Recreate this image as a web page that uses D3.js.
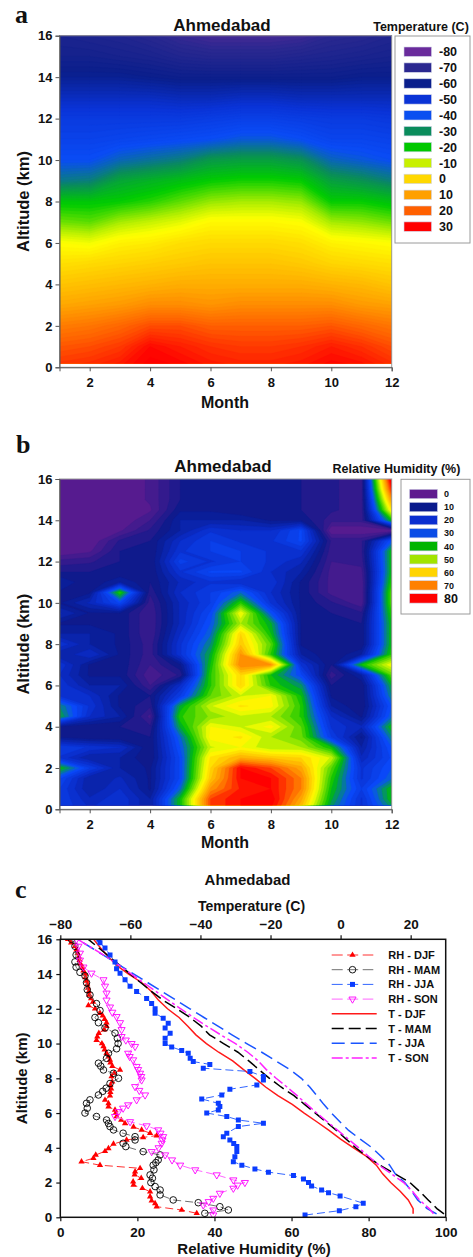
<!DOCTYPE html>
<html>
<head>
<meta charset="utf-8">
<script src="https://cdn.jsdelivr.net/npm/d3@7"></script>
<style>
  body { margin: 0; background: #fff; }
  svg text { font-family: Arial, "Liberation Sans", sans-serif; font-weight: bold; fill: #111; }
  .letter { font-family: "Times New Roman", "Liberation Serif", serif; font-size: 26px; }
</style>
</head>
<body>
<svg id="fig" width="473" height="1257"></svg>
<script>
// ---------- data ----------
var months = [1, 2, 3, 4, 5, 6, 7, 8, 9, 10, 11, 12];

// panel a: temperature (C) by month, altitude 0..16 km every 1 km
var tAlt = [0, 1, 2, 3, 4, 5, 6, 7, 8, 9, 10, 11, 12, 13, 14, 15, 16];
var tJan = [25, 21, 16, 10, 5, 0, -5, -14, -21, -33, -40, -44, -47, -53, -59, -63, -65];
var tFeb = [26, 22, 17, 11, 6, 1, -6, -15, -21, -32, -40, -44, -47, -53, -59, -63, -66];
var tMar = [28, 24, 19, 12, 7, 2, -3, -11, -20, -26, -36, -43, -47, -53, -59, -64, -67];
var tApr = [31, 29, 22, 14, 8, 3, -2, -9, -18, -24, -34, -42, -47, -53, -60, -65, -69];
var tMay = [30, 27, 22, 14, 9, 4, 0, -7, -15, -22, -32, -41, -47, -54, -61, -67, -72];
var tJun = [28, 25, 20, 13, 9, 5, 1, -4, -12, -20, -28, -40, -46, -54, -61, -68, -74];
var tJul = [27, 24, 20, 14, 9, 5, 1, -4, -11, -19, -27, -38, -45, -53, -61, -68, -74];
var tAug = [27, 24, 20, 14, 9, 5, 1, -4, -11, -19, -27, -38, -45, -53, -61, -68, -74];
var tSep = [28, 25, 20, 14, 9, 4, 0, -5, -12, -20, -29, -40, -46, -54, -61, -67, -73];
var tOct = [30, 27, 21, 14, 8, 2, -3, -11, -20, -27, -36, -43, -47, -54, -61, -66, -70];
var tNov = [29, 25, 19, 12, 7, 1, -4, -12, -20, -29, -38, -43, -47, -54, -60, -65, -69];
var tDec = [26, 22, 17, 11, 5, 0, -5, -14, -22, -32, -40, -44, -48, -54, -60, -64, -67];

var tLegendVals = [-80, -70, -60, -50, -40, -30, -20, -10, 0, 10, 20, 30];
var tLegendColors = ["#6a2b9c", "#2b2890", "#0a1f8c", "#0a33d6", "#0a4ff0", "#0a8c5c",
                     "#00c800", "#c8f000", "#ffd800", "#ffa000", "#ff6000", "#ff0000"];

// panel b: relative humidity (%) by month, altitude 0..16 km every 0.5 km
var rhAlt = [0, 0.5, 1, 1.5, 2, 2.5, 3, 3.5, 4, 4.5, 5, 5.5, 6, 6.5, 7, 7.5, 8,
             8.5, 9, 9.5, 10, 10.5, 11, 11.5, 12, 12.5, 13, 13.5, 14, 14.5, 15, 15.5, 16];
var rhJan = [25,25,25,28,40,22,25,12,12,38,35,22,22,20,22,15,22,15,12,18,12,12,15,10,6,0,0,0,0,0,0,0,0];
var rhFeb = [20,18,15,15,25,15,22,10,10,20,22,20,15,12,12,20,15,15,12,12,18,12,10,10,7,2,0,0,0,0,0,0,0];
var rhMar = [22,22,20,18,15,15,20,10,10,15,12,12,15,12,12,12,12,12,12,12,28,42,15,10,10,10,8,2,0,0,0,0,0];
var rhApr = [15,15,12,12,12,10,10,10,8,4,8,10,5,3,5,6,6,5,5,5,6,8,10,10,10,10,10,8,5,2,3,3,3];
var rhMay = [40,40,32,28,28,28,30,32,38,42,38,25,20,8,12,22,22,20,18,18,18,20,18,22,26,22,20,15,15,12,10,10,10];
var rhJun = [75,75,68,62,60,58,52,56,55,48,52,45,42,42,40,38,35,32,30,28,25,25,22,28,22,25,25,22,15,12,10,10,10];
var rhJul = [80,80,78,80,80,65,55,58,52,52,58,52,60,60,70,68,62,60,50,55,42,32,20,28,25,25,22,20,15,10,10,10,10];
var rhAug = [80,82,80,80,75,62,50,50,56,50,56,55,42,40,68,42,45,40,38,30,22,20,22,20,22,22,22,20,12,10,10,10,10];
var rhSep = [62,66,70,70,66,60,50,46,45,42,42,40,36,28,22,15,12,12,12,12,12,12,12,15,18,22,28,28,12,10,10,10,10];
var rhOct = [35,38,40,42,45,52,40,25,22,20,15,12,10,6,10,10,10,10,10,10,8,4,4,4,5,6,7,0,6,8,8,8,8];
var rhNov = [22,22,25,22,22,18,15,12,18,12,10,10,10,15,40,15,10,10,10,8,3,3,3,4,6,7,7,0,6,6,6,6,6];
var rhDec = [35,40,40,32,30,28,30,35,40,32,30,35,38,45,55,42,40,40,40,42,45,45,42,40,40,40,30,0,40,58,68,78,85];

var rhLegendVals = [0, 10, 20, 30, 40, 50, 60, 70, 80];
var rhLegendColors = ["#5f1b8f", "#0a1a8c", "#0a2ed0", "#0a4ce6", "#00b400",
                      "#a2e400", "#ffd400", "#ff8000", "#ff0000"];

// panel c: seasonal profiles, [altitude km, RH %]
var rhDJF = [[0.23,35.4],[0.42,31.5],[0.61,25],[0.8,24.6],[0.95,23.7],[1.19,23.3],[1.48,23.3],[1.67,21.3],
  [1.86,19],[2.05,18.9],[2.25,21],[2.45,19.3],[2.63,19.4],[2.82,20.7],[3.0,10.3],[3.2,5.5],[3.4,8.6],
  [3.59,9.2],[3.8,11.6],[3.97,12.5],[4.22,13.8],[4.45,17.2],[4.6,21.5],[4.7,25],[4.84,23.3],[5.03,21.1],
  [5.2,19],[5.4,16.8],[5.6,15.8],[5.8,14.6],[6.0,14.4],[6.18,14.2],[6.37,12.5],[6.56,12.5],[6.75,11.6],
  [7.0,12.9],[7.2,13],[7.4,13.2],[7.6,13],[7.8,13.5],[8.1,13.3],[8.3,14],[8.48,15.5],[8.7,13.5],[8.9,13],
  [9.06,12.9],[9.25,12.5],[9.45,12],[9.65,11.5],[9.84,11.2],[10.0,10.8],[10.2,9.4],[10.4,9.6],[10.6,10],
  [10.8,11.4],[11.0,12],[11.2,12],[11.4,11.5],[11.6,11],[11.75,10.3],[12.0,9],[12.2,7.3],[12.4,8.5],
  [12.6,8],[12.8,7.5],[13.0,7.4],[13.2,7.2],[13.4,7],[13.6,6.8],[13.8,6.5],[14.0,6.5],[14.2,6.0],
  [14.4,5.8],[14.6,5.2],[14.8,5.0],[15.0,4.8],[15.2,4.5],[15.4,4.2],[15.6,3.8],[15.8,2.8],[16,2.0]];
var rhMAM = [[0.23,37.5],[0.42,43.6],[0.61,41.4],[0.84,35.8],[1.0,29.3],[1.29,25.9],[1.57,25.9],[1.77,24.6],
  [2.0,23.5],[2.25,23.9],[2.44,23.3],[2.73,24.3],[3.0,24.1],[3.15,24.8],[3.3,25.4],[3.59,25.9],[3.78,21.5],
  [4.07,17],[4.26,16.3],[4.45,19.4],[4.64,19.4],[4.84,16.3],[5.03,13.8],[5.22,12.9],[5.4,12.5],[5.6,12],
  [5.8,9.4],[6.0,6.4],[6.28,7],[6.56,6.8],[6.76,7.7],[7.04,9.9],[7.25,11],[7.43,11.9],[7.7,12.9],[8.0,15.1],
  [8.29,13.8],[8.48,11.2],[8.7,10.5],[8.87,9.9],[9.15,12],[9.44,12.5],[9.7,14.6],[10.0,15],[10.3,14.8],
  [10.6,14.2],[10.9,11.6],[11.2,9.9],[11.5,9],[11.9,10.3],[12.3,9.4],[12.8,7.7],[13.1,7],[13.5,6.8],
  [13.9,6.4],[14.1,5.1],[14.4,4.1],[14.7,3.8],[15.1,4.1],[15.6,3.8],[16,2.9]];
var rhJJA = [[0.13,63.5],[0.38,72.4],[0.61,76.7],[0.81,78.6],[1.23,72.6],[1.42,69.6],[1.57,67.8],[1.8,65.2],
  [2.0,64.4],[2.2,63.1],[2.4,60.5],[2.6,54],[2.78,50.5],[3.0,47.1],[3.2,44.9],[3.49,45.3],[3.78,45.8],
  [4.07,45.8],[4.25,45],[4.45,44],[4.64,42.3],[4.84,43.2],[5.22,46.2],[5.41,52.7],[5.6,46.2],[5.8,43.2],
  [6.0,38],[6.18,41],[6.37,41.4],[6.56,41],[6.81,36.7],[7.04,41.9],[7.37,44],[7.62,51],[7.9,52.7],
  [8.1,52.7],[8.39,49.2],[8.58,37.1],[8.8,38.8],[8.96,34.5],[9.15,33.7],[9.44,33.2],[9.6,31.5],[9.8,28.9],
  [10.0,27.2],[10.3,27.2],[10.6,28.5],[10.9,27.2],[11.17,28],[11.46,26.7],[11.75,24.6],[12.0,24.6],
  [12.3,23.7],[12.6,22.4],[13.0,19.8],[13.3,18.1],[13.67,16.8],[14.05,15.5],[14.3,14.6],[14.7,14.2],
  [15.1,12.9],[15.5,11.6],[15.8,10.3],[16,10]];
var rhSON = [[0.13,39.7],[0.42,39.7],[0.71,37.1],[0.9,38.5],[1.09,39.7],[1.38,41.4],[1.67,44.9],[1.85,46],
  [2.0,47.9],[2.15,44.9],[2.44,40.6],[2.73,35],[3.0,31.1],[3.3,29],[3.59,27.2],[3.78,23.7],[4.0,25.5],
  [4.26,26.3],[4.45,26.5],[4.64,26.7],[4.84,26],[5.03,25.4],[5.26,22.4],[5.5,18.1],[5.8,14.2],[6.08,15.1],
  [6.28,16.3],[6.47,17.6],[6.76,19.8],[7.04,22],[7.3,20.5],[7.52,19.4],[7.9,21.1],[8.1,21],[8.29,20.7],
  [8.5,20.2],[8.68,19.8],[9.06,18.9],[9.25,18],[9.44,17.6],[9.83,19.4],[10.0,18.5],[10.2,17],[10.4,15.9],
  [10.8,15.9],[11.2,15.5],[11.55,14.6],[11.8,13.5],[12.1,12.9],[12.5,12],[12.9,12],[13.3,11.6],
  [13.67,11.2],[14.05,8.1],[14.4,6],[14.8,5.1],[15.2,5.1],[15.6,4.7],[16,4.2]];

// panel c: seasonal temperature (C) at these altitudes
var tProfAlt = [0.2, 0.5, 1, 1.5, 2, 2.5, 3, 3.5, 4, 4.5, 5, 5.5, 6, 6.5, 7, 7.5, 8,
                8.5, 9, 9.5, 10, 10.5, 11, 11.5, 12, 12.5, 13, 13.5, 14, 14.5, 15, 15.5, 16];
var tDJF = [20.7,20.7,19.3,17,14.3,12,10.2,7.4,3.7,0,-3.3,-6.8,-10.4,-13.8,-17.9,-21.4,-24.4,
            -27.7,-30.8,-34.8,-38.3,-41.3,-43.6,-46.1,-49.4,-52,-54,-56.7,-60.5,-63.9,-66.3,-68.5,-70.5];
var tMAM = [29.5,27.5,25,22.5,19.8,15.5,11.2,7.5,4.3,1.6,-1.2,-4.2,-7.2,-10.3,-13.3,-17,-20.3,
            -23.3,-26.2,-29.3,-33.4,-37.4,-39.8,-43,-46.7,-50.7,-54,-57,-60,-63,-66,-69,-72];
var tJJA = [27.4,24.7,22,20.3,18.3,15.6,14,11.6,9,5.6,2.3,-0.2,-2.6,-4.8,-6.8,-8.8,-11.2,
            -14.5,-18.5,-22.5,-26.8,-31,-35,-39,-43,-47,-51,-55,-59,-63,-67,-71,-75];
var tSON = [26.5,25.3,22.5,20.5,18,14.5,11,8,5.2,2.2,-0.8,-3.8,-6.8,-9.6,-12.4,-15.3,-18.4,
            -21.2,-23.5,-26.5,-30,-34.2,-38.2,-42,-45.6,-49.2,-52.7,-56.2,-59.7,-63.2,-66.8,-71,-75];

var altTicks = [0, 2, 4, 6, 8, 10, 12, 14, 16];
var monthTicks = [2, 4, 6, 8, 10, 12];
var rhTicks = [0, 20, 40, 60, 80, 100];
var tTicks = [-80, -60, -40, -20, 0, 20];

// ---------- drawing ----------
var svg = d3.select("#fig");

// colours for the smooth fields (legend colours plus a bright yellow step)
var tField = d3.scaleLinear()
  .domain([-80, -70, -60, -50, -40, -30, -20, -10, -5, 0, 10, 20, 30])
  .range(["#6a2b9c", "#2b2890", "#0a1f8c", "#0a33d6", "#0a4cf6", "#0a8c5c",
          "#00cc00", "#b8f000", "#ffff00", "#ffe000", "#ffa800", "#ff6000", "#ff0000"])
  .clamp(true);
var rhField = d3.scaleLinear()
  .domain([0, 12, 20, 30, 40, 50, 55, 60, 70, 80])
  .range(["#5f1b8f", "#0a1a8c", "#0a2cc8", "#0a4cff", "#00c000", "#a8ec00",
          "#ffff00", "#ffd800", "#ff8400", "#ff0000"])
  .clamp(true);

function drawField(g, id, cols, alts, x, y, thresholds, color, step) {
  var nx = cols.length, ny = alts.length, values = [];
  for (var j = 0; j < ny; j++) for (var i = 0; i < nx; i++) values.push(cols[i][j]);
  var da = alts[1] - alts[0];
  // grid value i sits at i + 0.5 in contour space
  var proj = d3.geoTransform({point: function(px, py) {
    this.stream.point(x(months[0] + px - 0.5), y(alts[0] + (py - 0.5) * da));
  }});
  var path = d3.geoPath(proj);
  g.append("clipPath").attr("id", id).append("rect")
    .attr("x", x(1)).attr("y", y(16))
    .attr("width", x(12) - x(1)).attr("height", y(0.2) - y(16));
  g.append("g").attr("clip-path", "url(#" + id + ")")
    .selectAll("path")
    .data(d3.contours().size([nx, ny]).thresholds(thresholds)(values))
    .join("path")
      .attr("d", path)
      .attr("fill", function(d){ return color(d.value + step / 2); })
      .attr("stroke", function(d){ return color(d.value + step / 2); })
      .attr("stroke-width", 0.3);
}

function fieldAxes(g, x, y, monthY) {
  g.append("rect")
    .attr("x", x(1)).attr("y", y(16))
    .attr("width", x(12) - x(1)).attr("height", y(0) - y(16))
    .attr("fill", "none").attr("stroke", "#9a9a9a").attr("stroke-width", 1);
  var ax = g.append("g").attr("transform", "translate(0," + y(0) + ")")
    .call(d3.axisBottom(x).tickValues(monthTicks).tickSize(4).tickPadding(6.5));
  var ay = g.append("g").attr("transform", "translate(" + x(1) + ",0)")
    .call(d3.axisLeft(y).tickValues(altTicks).tickSize(4).tickPadding(3));
  [ax, ay].forEach(function(a){
    a.selectAll("path, line").attr("stroke", "#555");
    a.selectAll("text").attr("font-size", 13).attr("fill", "#111")
      .attr("font-family", "Arial, 'Liberation Sans', sans-serif").attr("font-weight", "bold");
  });
  g.append("text").attr("x", 225).attr("y", monthY).attr("text-anchor", "middle")
    .attr("font-size", 16).text("Month");
  g.append("text")
    .attr("transform", "translate(28.5," + ((y(0) + y(16)) / 2) + ") rotate(-90)")
    .attr("text-anchor", "middle").attr("font-size", 16.5).text("Altitude (km)");
}

// ---------- panel a ----------
var ga = svg.append("g");
var xA = d3.scaleLinear().domain([1, 12]).range([59.5, 391.7]);
var yA = d3.scaleLinear().domain([0, 16]).range([367.3, 35.7]);
drawField(ga, "clipA", [tJan, tFeb, tMar, tApr, tMay, tJun, tJul, tAug, tSep, tOct, tNov, tDec],
  tAlt, xA, yA, d3.range(-90, 40, 1), tField, 1);
fieldAxes(ga, xA, yA, 408);
ga.append("text").attr("class", "letter").attr("x", 15).attr("y", 23).text("a");
ga.append("text").attr("x", 222).attr("y", 31).attr("text-anchor", "middle")
  .attr("font-size", 17).text("Ahmedabad");
ga.append("text").attr("x", 421).attr("y", 31).attr("text-anchor", "middle")
  .attr("font-size", 12.5).text("Temperature (C)");
ga.append("rect").attr("x", 395).attr("y", 36).attr("width", 75).attr("height", 207)
  .attr("fill", "#fff").attr("stroke", "#9a9a9a");
var legA = ga.selectAll(".la").data(tLegendVals).join("g")
  .attr("transform", function(d, i){ return "translate(0," + (51.7 + i * 15.9) + ")"; });
legA.append("rect").attr("x", 404).attr("y", -4.7).attr("width", 27.5).attr("height", 9.4)
  .attr("fill", function(d, i){ return tLegendColors[i]; })
  .attr("stroke", "#cfd3e6").attr("stroke-width", 0.6);
legA.append("text").attr("x", 439).attr("y", 4.5).attr("font-size", 12.5)
  .text(function(d){ return d; });

// ---------- panel b ----------
var gb = svg.append("g");
var xB = d3.scaleLinear().domain([1, 12]).range([59.5, 391.7]);
var yB = d3.scaleLinear().domain([0, 16]).range([809.3, 479]);
drawField(gb, "clipB", [rhJan, rhFeb, rhMar, rhApr, rhMay, rhJun, rhJul, rhAug, rhSep, rhOct, rhNov, rhDec],
  rhAlt, xB, yB, d3.range(0, 100, 2.5), rhField, 2.5);
fieldAxes(gb, xB, yB, 848);
gb.append("text").attr("class", "letter").attr("x", 16).attr("y", 453).text("b");
gb.append("text").attr("x", 223).attr("y", 472).attr("text-anchor", "middle")
  .attr("font-size", 17).text("Ahmedabad");
gb.append("text").attr("x", 396.5).attr("y", 473).attr("text-anchor", "middle")
  .attr("font-size", 12.5).text("Relative Humidity (%)");
gb.append("rect").attr("x", 401).attr("y", 479.3).attr("width", 69).attr("height", 134.7)
  .attr("fill", "#fff").attr("stroke", "#9a9a9a");
var legB = gb.selectAll(".lb").data(rhLegendVals).join("g")
  .attr("transform", function(d, i){ return "translate(0," + (494 + i * 13.05) + ")"; });
legB.append("rect").attr("x", 409.5).attr("y", -4.7).attr("width", 28).attr("height", 9.4)
  .attr("fill", function(d, i){ return rhLegendColors[i]; })
  .attr("stroke", "#cfd3e6").attr("stroke-width", 0.6);
legB.append("text").attr("x", 444)
  .attr("y", function(d){ return d === 80 ? 4.5 : 3.3; })
  .attr("font-size", function(d){ return d === 80 ? 12.5 : 9; })
  .attr("font-weight", "normal")
  .text(function(d){ return d; });

// ---------- panel c ----------
var gc = svg.append("g");
var xC = d3.scaleLinear().domain([0, 100]).range([60.3, 445.7]);
var tC = d3.scaleLinear().domain([-80, 30]).range([60.3, 445.7]);
var yC = d3.scaleLinear().domain([0, 16]).range([1217.3, 939.3]);

gc.append("clipPath").attr("id", "clipC").append("rect")
  .attr("x", xC(0)).attr("y", yC(16)).attr("width", xC(100) - xC(0)).attr("height", yC(0) - yC(16));
var plotC = gc.append("g").attr("clip-path", "url(#clipC)");

var tSeries = [
  {name: "T - DJF", data: tDJF, color: "#ff1a1a", dash: null},
  {name: "T - MAM", data: tMAM, color: "#000000", dash: "12,5"},
  {name: "T - JJA", data: tJJA, color: "#1a55ff", dash: "13,6"},
  {name: "T - SON", data: tSON, color: "#ff22ff", dash: "11,3,3,3"}
];
var rhSeries = [
  {name: "RH - DJF", data: rhDJF, line: "#ff3030", color: "#ff0000", marker: "tri"},
  {name: "RH - MAM", data: rhMAM, line: "#707070", color: "#000000", marker: "circle"},
  {name: "RH - JJA", data: rhJJA, line: "#3366ff", color: "#0a3cff", marker: "square"},
  {name: "RH - SON", data: rhSON, line: "#ff66ff", color: "#ff00ff", marker: "itri"}
];

var tLine = d3.line()
  .x(function(d, i){ return tC(d); })
  .y(function(d, i){ return yC(tProfAlt[i]); });
plotC.selectAll(".tl").data(tSeries).join("path")
  .attr("d", function(s){ return tLine(s.data); })
  .attr("fill", "none").attr("stroke", function(s){ return s.color; })
  .attr("stroke-width", 1.5)
  .attr("stroke-dasharray", function(s){ return s.dash; });

var rhLine = d3.line()
  .x(function(d){ return xC(d[1]); })
  .y(function(d){ return yC(d[0]); });

function addMarker(sel, s) {
  if (s.marker === "circle") {
    sel.append("circle").attr("r", 3.3).attr("fill", "none")
      .attr("stroke", s.color).attr("stroke-width", 0.9);
  } else if (s.marker === "square") {
    sel.append("path").attr("d", d3.symbol().type(d3.symbolSquare).size(25)())
      .attr("fill", s.color);
  } else if (s.marker === "tri") {
    sel.append("path").attr("d", d3.symbol().type(d3.symbolTriangle).size(17)())
      .attr("fill", s.color);
  } else {
    sel.append("path").attr("d", d3.symbol().type(d3.symbolTriangle).size(22)())
      .attr("transform", "rotate(180)")
      .attr("fill", "none").attr("stroke", s.color).attr("stroke-width", 0.9);
  }
}

rhSeries.forEach(function(s){
  plotC.append("path").attr("d", rhLine(s.data))
    .attr("fill", "none").attr("stroke", s.line).attr("stroke-width", 1)
    .attr("stroke-dasharray", "8,4");
  plotC.append("g").selectAll("g").data(s.data).join("g")
    .attr("transform", function(d){ return "translate(" + xC(d[1]) + "," + yC(d[0]) + ")"; })
    .each(function(){ addMarker(d3.select(this), s); });
});

gc.append("rect").attr("x", xC(0)).attr("y", yC(16))
  .attr("width", xC(100) - xC(0)).attr("height", yC(0) - yC(16))
  .attr("fill", "none").attr("stroke", "#111").attr("stroke-width", 1.5);

var cAxes = [
  gc.append("g").attr("transform", "translate(0," + yC(0) + ")")
    .call(d3.axisBottom(xC).tickValues(rhTicks).tickSize(4).tickPadding(6)),
  gc.append("g").attr("transform", "translate(0," + yC(16) + ")")
    .call(d3.axisTop(tC).tickValues(tTicks).tickSize(4).tickPadding(6)),
  gc.append("g").attr("transform", "translate(" + xC(0) + ",0)")
    .call(d3.axisLeft(yC).tickValues(altTicks).tickSize(4).tickPadding(4))
];
cAxes.forEach(function(a){
  a.select(".domain").remove();
  a.selectAll("line").attr("stroke", "#111").attr("stroke-width", 1.2);
  a.selectAll("text").attr("font-size", 13.5).attr("fill", "#111")
    .attr("font-family", "Arial, 'Liberation Sans', sans-serif").attr("font-weight", "bold");
});

gc.append("text").attr("class", "letter").attr("x", 15).attr("y", 898).text("c");
gc.append("text").attr("x", 247.5).attr("y", 885).attr("text-anchor", "middle")
  .attr("font-size", 15).text("Ahmedabad");
gc.append("text").attr("x", 251.5).attr("y", 911).attr("text-anchor", "middle")
  .attr("font-size", 14).text("Temperature (C)");
gc.append("text").attr("x", 254).attr("y", 1254).attr("text-anchor", "middle")
  .attr("font-size", 15).text("Relative Humidity (%)");
gc.append("text")
  .attr("transform", "translate(27," + ((yC(0) + yC(16)) / 2) + ") rotate(-90)")
  .attr("text-anchor", "middle").attr("font-size", 15).text("Altitude (km)");

// legend of panel c
var legRows = rhSeries.concat(tSeries);
var legC = gc.selectAll(".lc").data(legRows).join("g")
  .attr("transform", function(d, i){ return "translate(0," + (955 + i * 14.7) + ")"; });
legC.each(function(s, i){
  var g = d3.select(this);
  if (i < 4) {
    g.append("line").attr("x1", 331.7).attr("x2", 373.3)
      .attr("stroke", s.line).attr("stroke-width", 1).attr("stroke-dasharray", "11,4.5");
    var m = g.append("g").attr("transform", "translate(352.5,0)");
    addMarker(m, s);
  } else {
    g.append("line").attr("x1", 331.7).attr("x2", 376.7)
      .attr("stroke", s.color).attr("stroke-width", 1.5).attr("stroke-dasharray", s.dash);
  }
  g.append("text").attr("x", 388.3).attr("y", 4).attr("font-size", 11).text(s.name);
});
</script>
</body>
</html>
